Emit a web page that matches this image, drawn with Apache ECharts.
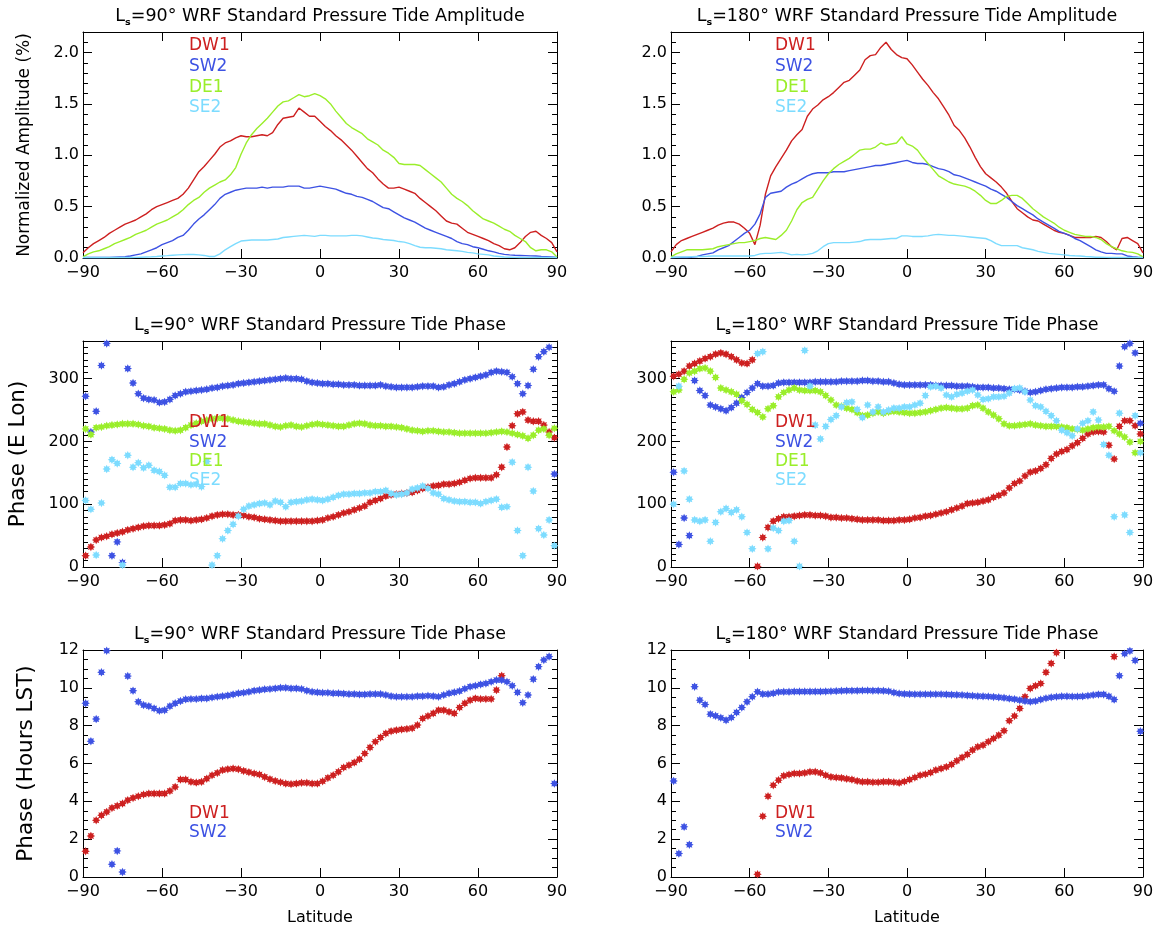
<!DOCTYPE html>
<html>
<head>
<meta charset="utf-8">
<script src="https://cdn.jsdelivr.net/npm/echarts@6/dist/echarts.min.js"></script>
<style>
  html, body { margin: 0; padding: 0; background: #ffffff; }
  #chart { width: 1160px; height: 929px; }
</style>
</head>
<body>
<div id="chart"></div>
<script>
// Latitude grids: amplitude curves every 2 deg from pole to pole, phase points at odd latitudes
const latLine = [-90,-88,-86,-84,-82,-80,-78,-76,-74,-72,-70,-68,-66,-64,-62,-60,-58,-56,-54,-52,
  -50,-48,-46,-44,-42,-40,-38,-36,-34,-32,-30,-28,-26,-24,-22,-20,-18,-16,-14,-12,
  -10,-8,-6,-4,-2,0,2,4,6,8,10,12,14,16,18,20,22,24,26,28,
  30,32,34,36,38,40,42,44,46,48,50,52,54,56,58,60,62,64,66,68,
  70,72,74,76,78,80,82,84,86,88,90];
const latPt = [-89,-87,-85,-83,-81,-79,-77,-75,-73,-71,-69,-67,-65,-63,-61,-59,-57,-55,-53,-51,
  -49,-47,-45,-43,-41,-39,-37,-35,-33,-31,-29,-27,-25,-23,-21,-19,-17,-15,-13,-11,
  -9,-7,-5,-3,-1,1,3,5,7,9,11,13,15,17,19,21,23,25,27,29,
  31,33,35,37,39,41,43,45,47,49,51,53,55,57,59,61,63,65,67,69,
  71,73,75,77,79,81,83,85,87,89];

// Normalized amplitude (%), Ls = 90
const amp90_DW1 = [0.05,0.10,0.14,0.17,0.20,0.24,0.27,0.30,0.33,0.35,
  0.37,0.40,0.43,0.47,0.50,0.52,0.54,0.56,0.58,0.62,
  0.68,0.76,0.84,0.89,0.95,1.01,1.08,1.12,1.14,1.17,
  1.19,1.18,1.18,1.19,1.20,1.19,1.22,1.30,1.36,1.37,
  1.38,1.46,1.42,1.38,1.38,1.33,1.28,1.24,1.19,1.15,
  1.10,1.05,0.99,0.93,0.87,0.83,0.77,0.72,0.68,0.68,
  0.69,0.67,0.65,0.63,0.58,0.54,0.50,0.46,0.41,0.36,
  0.34,0.33,0.29,0.25,0.23,0.21,0.19,0.17,0.14,0.12,
  0.09,0.08,0.10,0.15,0.21,0.25,0.26,0.22,0.19,0.15,0.06];
const amp90_SW2 = [0.005,0.005,0.005,0.005,0.005,0.006,0.008,0.01,0.012,0.02,
  0.03,0.04,0.06,0.08,0.10,0.13,0.15,0.17,0.20,0.22,
  0.27,0.33,0.38,0.42,0.47,0.52,0.58,0.62,0.64,0.66,
  0.67,0.68,0.68,0.68,0.69,0.68,0.69,0.69,0.69,0.70,
  0.70,0.70,0.68,0.68,0.69,0.70,0.69,0.68,0.67,0.65,
  0.63,0.62,0.60,0.59,0.57,0.55,0.52,0.49,0.48,0.45,
  0.42,0.39,0.37,0.35,0.32,0.29,0.27,0.25,0.23,0.21,
  0.19,0.16,0.14,0.13,0.11,0.10,0.085,0.07,0.06,0.045,
  0.035,0.03,0.027,0.025,0.023,0.021,0.02,0.016,0.013,0.01,0.005];
const amp90_DE1 = [0.01,0.04,0.06,0.07,0.09,0.11,0.14,0.16,0.18,0.20,
  0.23,0.25,0.27,0.30,0.33,0.35,0.37,0.40,0.43,0.47,
  0.52,0.56,0.59,0.64,0.68,0.71,0.74,0.76,0.81,0.88,
  1.01,1.12,1.20,1.26,1.31,1.36,1.42,1.48,1.52,1.53,
  1.56,1.59,1.57,1.58,1.60,1.58,1.55,1.50,1.43,1.37,
  1.31,1.27,1.24,1.21,1.16,1.13,1.10,1.05,1.02,0.98,
  0.92,0.91,0.91,0.91,0.90,0.86,0.82,0.78,0.74,0.68,
  0.62,0.58,0.55,0.51,0.46,0.42,0.38,0.36,0.34,0.31,
  0.28,0.26,0.22,0.19,0.16,0.10,0.07,0.08,0.08,0.06,0.01];
const amp90_SE2 = [0.005,0.005,0.005,0.005,0.005,0.005,0.005,0.005,0.005,0.005,
  0.006,0.008,0.01,0.012,0.015,0.02,0.023,0.027,0.03,0.033,
  0.035,0.034,0.03,0.025,0.015,0.015,0.04,0.08,0.11,0.14,
  0.165,0.17,0.175,0.175,0.175,0.175,0.18,0.185,0.20,0.205,
  0.21,0.215,0.22,0.215,0.21,0.22,0.22,0.215,0.215,0.215,
  0.215,0.22,0.22,0.215,0.205,0.195,0.19,0.18,0.175,0.17,
  0.16,0.155,0.14,0.12,0.105,0.10,0.10,0.095,0.09,0.08,
  0.075,0.07,0.065,0.055,0.05,0.04,0.035,0.03,0.02,0.015,
  0.01,0.008,0.006,0.005,0.005,0.005,0.005,0.005,0.005,0.005,0.005];

// Normalized amplitude (%), Ls = 180
const amp180_DW1 = [0.06,0.13,0.17,0.19,0.21,0.23,0.25,0.27,0.29,0.32,
  0.34,0.35,0.35,0.33,0.29,0.24,0.13,0.32,0.62,0.80,
  0.89,0.97,1.05,1.14,1.20,1.25,1.38,1.45,1.49,1.54,
  1.57,1.61,1.66,1.71,1.73,1.78,1.83,1.93,1.97,1.98,
  2.05,2.10,2.03,1.98,1.95,1.94,1.88,1.81,1.74,1.68,
  1.61,1.55,1.47,1.39,1.29,1.24,1.17,1.08,0.98,0.89,
  0.82,0.78,0.74,0.69,0.63,0.55,0.48,0.44,0.40,0.37,
  0.36,0.33,0.30,0.27,0.25,0.24,0.22,0.20,0.20,0.20,
  0.20,0.21,0.20,0.16,0.11,0.08,0.19,0.20,0.17,0.14,0.05];
const amp180_SW2 = [0.005,0.005,0.005,0.005,0.008,0.015,0.03,0.04,0.05,0.08,
  0.10,0.12,0.16,0.20,0.24,0.27,0.33,0.43,0.59,0.63,
  0.64,0.65,0.69,0.72,0.74,0.77,0.80,0.82,0.83,0.83,
  0.83,0.84,0.84,0.84,0.85,0.86,0.87,0.88,0.89,0.90,
  0.90,0.91,0.92,0.93,0.94,0.95,0.93,0.92,0.92,0.91,
  0.89,0.87,0.86,0.84,0.81,0.80,0.78,0.76,0.74,0.72,
  0.70,0.67,0.65,0.62,0.59,0.55,0.51,0.48,0.45,0.42,
  0.38,0.35,0.32,0.29,0.26,0.24,0.22,0.19,0.17,0.14,
  0.11,0.08,0.06,0.045,0.045,0.04,0.04,0.02,0.012,0.008,0.005];
const amp180_DE1 = [0.01,0.04,0.06,0.08,0.08,0.08,0.08,0.085,0.09,0.11,
  0.12,0.13,0.14,0.15,0.15,0.16,0.17,0.19,0.20,0.19,
  0.18,0.22,0.27,0.36,0.47,0.54,0.57,0.59,0.67,0.75,
  0.82,0.87,0.91,0.94,0.97,1.01,1.05,1.06,1.06,1.08,
  1.12,1.10,1.11,1.12,1.18,1.11,1.09,1.05,0.98,0.92,
  0.86,0.80,0.77,0.74,0.72,0.71,0.70,0.68,0.65,0.61,
  0.56,0.53,0.53,0.56,0.60,0.61,0.61,0.58,0.53,0.48,
  0.44,0.40,0.37,0.34,0.30,0.27,0.25,0.23,0.22,0.21,
  0.21,0.20,0.18,0.14,0.11,0.09,0.07,0.06,0.055,0.04,0.01];
const amp180_SE2 = [0.005,0.008,0.01,0.01,0.012,0.014,0.015,0.017,0.02,0.02,
  0.02,0.02,0.02,0.02,0.02,0.02,0.025,0.04,0.045,0.045,
  0.05,0.055,0.045,0.03,0.035,0.03,0.035,0.045,0.07,0.11,
  0.14,0.15,0.15,0.15,0.15,0.155,0.16,0.175,0.18,0.18,
  0.18,0.185,0.19,0.19,0.215,0.215,0.21,0.21,0.21,0.215,
  0.225,0.23,0.225,0.22,0.22,0.215,0.21,0.205,0.20,0.195,
  0.19,0.17,0.14,0.12,0.12,0.12,0.12,0.10,0.09,0.08,
  0.065,0.055,0.045,0.04,0.035,0.03,0.025,0.022,0.02,0.015,
  0.012,0.008,0.007,0.006,0.005,0.005,0.005,0.005,0.005,0.005,0.005];

// Phase (degrees east longitude), Ls = 90
const lon90_DW1 = [18,32,43,47,49,52,54,56,59,61,
  63,65,66,66,66,67,69,74,75,75,
  74,75,76,78,81,83,84,84,83,83,
  82,80,79,77,76,75,74,73,73,73,
  73,73,73,73,74,75,78,80,83,86,
  88,91,94,97,103,106,109,113,115,116,
  117,118,119,122,125,127,129,130,132,132,
  133,135,138,141,142,142,142,142,147,159,
  191,225,244,247,234,232,232,226,215,206];
const lon90_SW2 = [272,215,248,321,356,18,40,7,316,293,
  276,269,267,266,262,263,267,273,276,279,
  280,281,282,283,285,286,288,289,290,292,
  293,294,295,296,297,298,299,300,301,300,
  300,299,296,294,293,292,292,291,291,290,
  290,290,289,289,289,289,290,288,287,286,
  286,286,286,287,288,288,288,286,287,290,
  292,295,298,300,302,304,306,310,312,311,
  310,303,292,276,289,315,335,343,350,148];
const lon90_DE1 = [220,211,222,223,225,226,227,228,228,228,
  227,225,224,222,221,220,218,217,218,222,
  226,229,232,234,236,237,237,236,234,232,
  231,230,229,228,228,226,224,223,225,226,
  224,223,225,227,228,227,226,225,224,224,
  226,228,229,228,226,225,225,224,224,223,
  222,220,218,217,216,217,217,216,215,215,
  214,213,213,213,213,213,213,214,215,216,
  215,213,211,209,205,210,218,220,210,221];
const lon90_SE2 = [106,92,19,102,156,171,165,3,178,159,
  166,158,162,154,152,146,127,127,133,133,
  131,132,128,168,3,18,45,58,68,81,
  92,97,99,101,102,99,105,103,96,103,
  104,105,107,108,107,106,108,111,114,116,
  116,117,117,118,118,120,120,122,117,115,
  116,118,124,126,129,125,118,116,109,107,
  105,104,104,103,103,101,104,106,108,95,
  96,167,58,18,159,121,61,51,75,34];

// Phase (degrees east longitude), Ls = 180
const lon180_DW1 = [304,307,312,320,324,328,332,335,339,341,
  339,335,330,325,324,330,1,47,63,73,
  77,80,80,81,82,83,83,82,82,81,
  79,79,78,78,77,76,75,75,75,75,
  74,74,74,75,75,76,78,79,81,82,
  84,86,88,91,94,97,101,102,103,105,
  107,111,114,118,126,133,137,145,151,153,
  157,163,173,180,184,187,193,198,205,212,
  215,216,215,194,172,224,233,233,225,212];
const lon180_SW2 = [151,36,78,50,297,281,273,258,255,252,
  249,254,261,270,278,285,292,288,288,289,
  293,294,294,294,294,294,294,295,295,295,
  295,295,296,296,296,296,297,297,296,296,
  295,295,293,291,290,290,290,290,290,290,
  289,289,289,289,288,288,288,287,286,286,
  286,285,285,284,283,283,282,280,278,279,
  281,283,284,285,286,286,286,287,287,288,
  289,290,290,284,280,320,351,356,341,229];
const lon180_DE1 = [279,282,299,309,312,316,317,312,302,285,
  282,279,275,265,259,251,246,239,252,257,
  271,278,282,285,282,281,281,281,279,273,
  266,258,256,253,251,246,241,242,245,247,
  245,247,248,247,246,245,245,246,247,249,
  251,253,254,253,252,252,253,257,258,253,
  247,242,236,228,225,225,226,227,228,226,
  225,224,224,224,223,222,220,219,218,220,
  222,223,223,224,217,212,207,199,182,200];
const lon180_SE2 = [100,288,153,108,75,73,75,41,71,88,
  93,87,91,80,55,29,340,343,29,62,
  58,73,74,41,1,345,288,226,204,224,
  235,241,255,262,263,251,238,258,247,255,
  247,250,253,253,255,255,258,261,273,287,
  288,285,274,271,275,277,280,282,274,267,
  268,271,271,272,277,284,285,279,266,257,
  255,248,241,233,218,214,209,220,229,233,
  247,234,195,178,80,245,83,55,241,182];

// Phase (hours local solar time), Ls = 90; null = beyond 12 h
const lst90_DW1 = [1.36,2.17,3.0,3.26,3.44,3.65,3.76,3.88,4.06,4.18,
  4.27,4.36,4.41,4.41,4.41,4.41,4.55,4.76,5.15,5.15,
  5.03,4.99,5.03,5.2,5.38,5.5,5.65,5.7,5.73,5.7,
  5.61,5.54,5.47,5.42,5.29,5.17,5.08,5.01,4.94,4.91,
  4.94,4.98,4.98,4.94,4.94,5.06,5.24,5.38,5.56,5.79,
  5.91,6.05,6.23,6.53,6.85,7.15,7.38,7.59,7.71,7.76,
  7.8,7.83,7.87,8.03,8.38,8.51,8.65,8.82,8.82,8.73,
  8.65,8.96,9.18,9.35,9.44,9.41,9.41,9.41,9.88,10.64,
  null,null,null,null,null,null,null,null,null,null];
const lst90_SW2 = [9.18,7.18,8.35,10.82,11.96,0.67,1.38,0.26,10.62,9.85,
  9.26,9.09,9.03,8.91,8.79,8.82,9.03,9.18,9.3,9.39,
  9.41,9.41,9.44,9.44,9.49,9.53,9.56,9.6,9.65,9.71,
  9.74,9.79,9.85,9.88,9.92,9.94,9.97,10.0,10.0,9.97,
  9.97,9.94,9.85,9.79,9.76,9.74,9.74,9.71,9.71,9.69,
  9.67,9.67,9.65,9.65,9.67,9.67,9.67,9.62,9.56,9.53,
  9.53,9.53,9.53,9.56,9.56,9.58,9.56,9.53,9.62,9.71,
  9.76,9.83,9.95,10.06,10.11,10.18,10.23,10.32,10.41,10.41,
  10.32,10.11,9.76,9.21,9.62,10.46,11.12,11.47,11.65,4.94];

// Phase (hours local solar time), Ls = 180; null = beyond 12 h
const lst180_DW1 = [null,null,null,null,null,null,null,null,null,null,
  null,null,null,null,null,null,0.14,3.21,4.27,4.85,
  5.12,5.35,5.42,5.47,5.47,5.5,5.56,5.56,5.5,5.38,
  5.29,5.26,5.24,5.19,5.15,5.08,5.03,5.03,5.01,5.01,
  5.03,5.03,5.01,4.98,5.05,5.15,5.26,5.38,5.43,5.52,
  5.65,5.73,5.82,5.95,6.14,6.32,6.48,6.71,6.88,6.97,
  7.15,7.32,7.5,7.73,8.26,8.51,8.91,9.53,9.97,10.11,
  10.23,10.82,11.29,11.86,null,null,null,null,null,null,
  null,null,null,null,11.65,null,null,null,null,null];
const lst180_SW2 = [5.08,1.24,2.65,1.71,10.06,9.35,9.12,8.61,8.52,8.42,
  8.29,8.43,8.7,8.96,9.26,9.53,9.79,9.67,9.67,9.71,
  9.78,9.79,9.79,9.8,9.8,9.8,9.8,9.8,9.8,9.81,
  9.82,9.83,9.84,9.85,9.85,9.85,9.86,9.86,9.85,9.85,
  9.84,9.82,9.75,9.7,9.68,9.67,9.66,9.66,9.66,9.66,
  9.66,9.66,9.65,9.64,9.63,9.62,9.6,9.58,9.56,9.55,
  9.54,9.52,9.5,9.47,9.43,9.4,9.35,9.3,9.27,9.3,
  9.38,9.45,9.5,9.53,9.55,9.55,9.54,9.54,9.55,9.58,
  9.62,9.65,9.65,9.55,9.38,10.64,11.8,11.95,11.45,7.7];

const tideColors = { DW1: '#cd2020', SW2: '#3d52e3', DE1: '#9aee2a', SE2: '#7ddcff' };

const FONT = '"DejaVu Sans", "Liberation Sans", sans-serif';
// eight-armed asterisk used by the phase plots
const STAR = 'path://M20 10L15.5 12.3L17.07 17.07L12.3 15.5L10 20L7.7 15.5L2.93 17.07L4.5 12.3L0 10L4.5 7.7L2.93 2.93L7.7 4.5L10 0L12.3 4.5L17.07 2.93L15.5 7.7Z';

const amplitudeScale = { min: 0, max: 2.2, major: 0.5, minor: 0.1, fmt: v => (Math.abs(v * 2 - Math.round(v * 2)) < 1e-6 ? v.toFixed(1) : '') };
const lonScale = { min: 0, max: 360, major: 100, minor: 10, fmt: v => (v % 100 === 0 ? String(v) : '') };
const lstScale = { min: 0, max: 12, major: 2, minor: 0.5, fmt: v => String(v) };

const panels = [
  { rect: [83, 32, 474, 226], season: '90', what: 'Amplitude', scale: amplitudeScale, kind: 'line', xs: latLine,
    series: [['DW1', amp90_DW1], ['SW2', amp90_SW2], ['DE1', amp90_DE1], ['SE2', amp90_SE2]],
    yName: 'Normalized Amplitude (%)', yNameSize: 17, yNameGap: 50, key: [189, 46, 20.6] },
  { rect: [671, 32, 472, 226], season: '180', what: 'Amplitude', scale: amplitudeScale, kind: 'line', xs: latLine,
    series: [['DW1', amp180_DW1], ['SW2', amp180_SW2], ['DE1', amp180_DE1], ['SE2', amp180_SE2]],
    key: [775, 46, 20.6] },
  { rect: [83, 341, 474, 226], season: '90', what: 'Phase', scale: lonScale, kind: 'scatter', xs: latPt,
    series: [['DW1', lon90_DW1], ['SW2', lon90_SW2], ['DE1', lon90_DE1], ['SE2', lon90_SE2]],
    yName: 'Phase (E Lon)', yNameSize: 21.5, yNameGap: 54, key: [189, 423, 19.1] },
  { rect: [671, 341, 472, 226], season: '180', what: 'Phase', scale: lonScale, kind: 'scatter', xs: latPt,
    series: [['DW1', lon180_DW1], ['SW2', lon180_SW2], ['DE1', lon180_DE1], ['SE2', lon180_SE2]],
    key: [775, 423, 19.1] },
  { rect: [83, 650, 474, 227], season: '90', what: 'Phase', scale: lstScale, kind: 'scatter', xs: latPt,
    series: [['DW1', lst90_DW1], ['SW2', lst90_SW2]],
    yName: 'Phase (Hours LST)', yNameSize: 21.5, yNameGap: 46, key: [189, 814, 18.4], xName: 'Latitude' },
  { rect: [671, 650, 472, 227], season: '180', what: 'Phase', scale: lstScale, kind: 'scatter', xs: latPt,
    series: [['DW1', lst180_DW1], ['SW2', lst180_SW2]],
    key: [775, 814, 18.4], xName: 'Latitude' }
];

const grid = [], xAxis = [], yAxis = [], series = [], title = [], graphic = [];
const black = '#000000';
const labelStyle = { color: black, fontSize: 16, fontFamily: FONT };

panels.forEach((p, i) => {
  const [l, t, w, h] = p.rect;
  grid.push({ left: l, top: t, width: w, height: h, containLabel: false });

  const xBase = {
    gridIndex: i, type: 'value', min: -90, max: 90, interval: 30,
    axisLine: { onZero: false, lineStyle: { color: black, width: 1 } },
    axisTick: { inside: true, length: 9, lineStyle: { color: black, width: 1 } },
    splitLine: { show: false }
  };
  xAxis.push(Object.assign({}, xBase, {
    position: 'bottom',
    axisLabel: Object.assign({ margin: 7, formatter: v => (v < 0 ? '\u2212' + Math.abs(v) : String(v)) }, labelStyle),
    name: p.xName || '', nameLocation: 'middle', nameGap: 33,
    nameTextStyle: { color: black, fontSize: 16, fontFamily: FONT }
  }));
  xAxis.push(Object.assign({}, xBase, { position: 'top', axisLabel: { show: false } }));

  const s = p.scale;
  const yMajor = side => ({
    gridIndex: i, type: 'value', min: s.min, max: s.max, interval: s.major, position: side,
    axisLine: { show: true, onZero: false, lineStyle: { color: black, width: 1 } },
    axisTick: { inside: true, length: 9, lineStyle: { color: black, width: 1 } },
    splitLine: { show: false }
  });
  const yMinor = side => ({
    gridIndex: i, type: 'value', min: s.min, max: s.max, interval: s.minor, position: side,
    axisLine: { show: false, onZero: false },
    axisTick: { inside: true, length: 5, lineStyle: { color: black, width: 1 } },
    axisLabel: { show: false }, splitLine: { show: false }
  });
  yAxis.push(Object.assign(yMajor('left'), {
    axisLabel: Object.assign({ margin: 4, formatter: s.fmt }, labelStyle),
    name: p.yName || '', nameLocation: 'middle', nameRotate: 90, nameGap: p.yNameGap || 50,
    nameTextStyle: { color: black, fontSize: p.yNameSize || 17, fontFamily: FONT }
  }));
  yAxis.push(yMinor('left'));
  yAxis.push(Object.assign(yMajor('right'), { axisLabel: { show: false } }));
  yAxis.push(yMinor('right'));

  p.series.forEach(([name, vals]) => {
    const pts = [];
    p.xs.forEach((x, k) => { if (vals[k] !== null && vals[k] !== undefined) pts.push([x, vals[k]]); });
    const col = tideColors[name];
    if (p.kind === 'line') {
      series.push({
        type: 'line', name, xAxisIndex: 2 * i, yAxisIndex: 4 * i, data: pts,
        symbol: 'none', showSymbol: false, smooth: false, clip: true,
        lineStyle: { color: col, width: 1.4 }, itemStyle: { color: col }, z: 3
      });
    } else {
      series.push({
        type: 'scatter', name, xAxisIndex: 2 * i, yAxisIndex: 4 * i, data: pts,
        symbol: STAR, symbolSize: 8.5, clip: true,
        itemStyle: { color: col, opacity: 1 }, z: 3
      });
    }
  });

  // panel heading with subscripted "s" on L
  title.push({
    text: '{n|L}{s|s}{n|=' + p.season + '\u00b0 WRF Standard Pressure Tide ' + p.what + '}',
    left: l + w / 2, top: t - 25, textAlign: 'center', padding: 0,
    textStyle: {
      fontWeight: 'normal',
      rich: {
        n: { fontSize: 17.5, fontWeight: 'normal', fontFamily: FONT, color: black, padding: [0, 0, 3, 0], verticalAlign: 'bottom' },
        s: { fontSize: 9.5, fontWeight: 'bold', fontFamily: FONT, color: black, verticalAlign: 'bottom' }
      }
    }
  });

  // tide labels in the panel, coloured like their series
  const [kx, ky, kstep] = p.key;
  p.series.forEach(([name], k) => {
    graphic.push({
      type: 'text', x: kx, y: ky + k * kstep, z: 100,
      style: {
        text: name, fill: tideColors[name], font: '17px ' + FONT,
        align: 'left', verticalAlign: 'middle', textAlign: 'left', textVerticalAlign: 'middle'
      }
    });
  });
});

const chart = echarts.init(document.getElementById('chart'), null, { renderer: 'canvas' });
chart.setOption({
  backgroundColor: '#ffffff',
  animation: false,
  grid, xAxis, yAxis, series, graphic, title
});
</script>
</body>
</html>
